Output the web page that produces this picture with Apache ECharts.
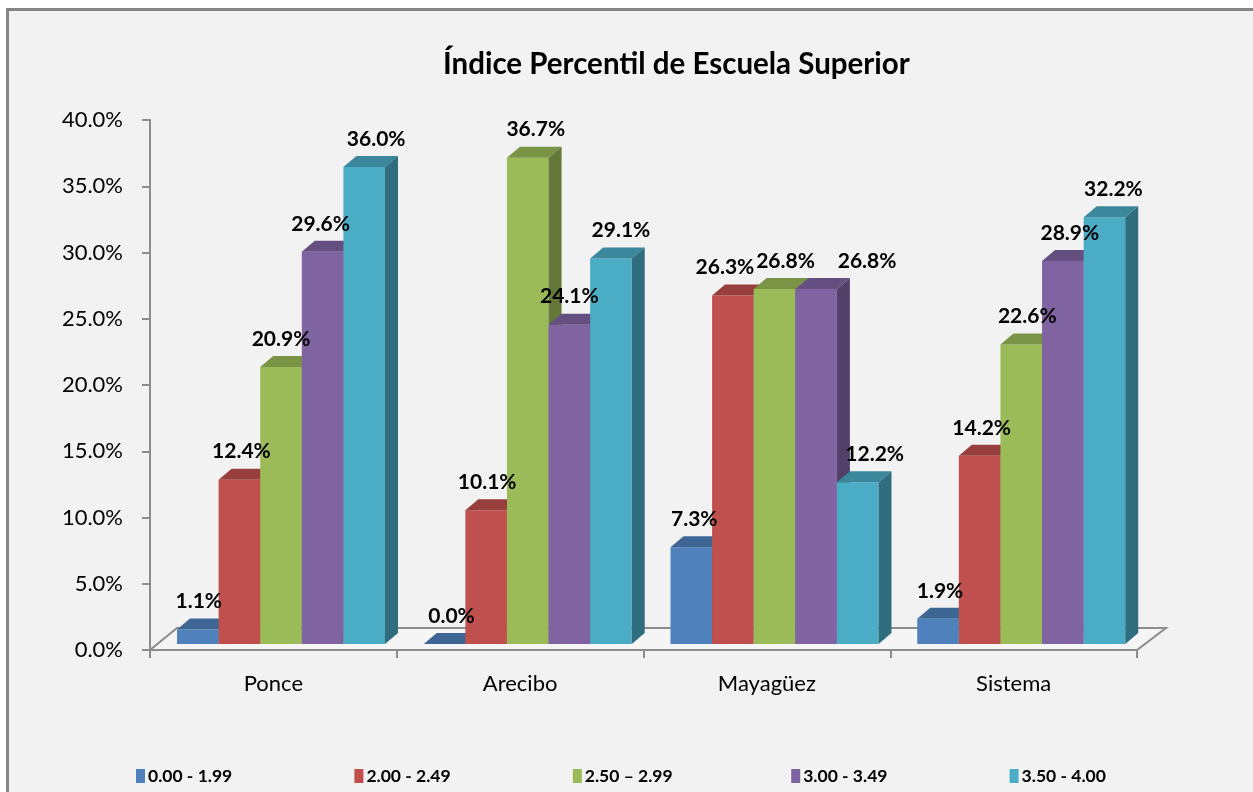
<!DOCTYPE html>
<html>
<head>
<meta charset="utf-8">
<script src="https://cdn.jsdelivr.net/npm/echarts@6/dist/echarts.min.js"></script>
<style>
	html, body { margin: 0; padding: 0; background: #fff; }
	#chart { width: 1253px; height: 792px; }
</style>
</head>
<body>
<div id="chart"></div>
<script>
// datos del gráfico
var categorias = ['Ponce', 'Arecibo', 'Mayagüez', 'Sistema'];
var rangos = ['0.00 - 1.99', '2.00 - 2.49', '2.50 \u2013 2.99', '3.00 - 3.49', '3.50 - 4.00'];
var r000_199 = [1.1, 0.0, 7.3, 1.9];
var r200_249 = [12.4, 10.1, 26.3, 14.2];
var r250_299 = [20.9, 36.7, 26.8, 22.6];
var r300_349 = [29.6, 24.1, 26.8, 28.9];
var r350_400 = [36.0, 29.1, 12.2, 32.2];
var valores = [r000_199, r200_249, r250_299, r300_349, r350_400];
var ticksY = [0, 5, 10, 15, 20, 25, 30, 35, 40];

var colores = ['#4F81BD', '#C0504D', '#9BBB59', '#8064A2', '#4BACC6'];
// desplazamiento horizontal de las etiquetas (como las coloca Excel)
var ajusteEtiqueta = [
	[1, 7, 3, 2],
	[2, 1, -8, 2],
	[0, 8, 11, 6],
	[-2, 0, 51, 7],
	[12, 10, 17, 9]
];
var fuente = 'Lato, "Open Sans", sans-serif';

function oscurecer(hex, f) {
	var n = parseInt(hex.slice(1), 16);
	var r = Math.round(((n >> 16) & 255) * f);
	var g = Math.round(((n >> 8) & 255) * f);
	var b = Math.round((n & 255) * f);
	return 'rgb(' + r + ',' + g + ',' + b + ')';
}

var PROF_X = 13, PROF_Y = -11, ELEV = 6;

function barra3d(idx) {
	return function(params, api) {
		var c = api.value(0);
		var v = api.value(1);
		var banda = api.size([1, 0])[0];
		var base = api.coord([c, 0]);
		var tope = api.coord([c, v]);
		var w = banda * 0.1686;
		var x0 = base[0] - banda / 2 + banda * 0.1094 + idx * w;
		var yb = base[1] - ELEV;
		var yt = tope[1] - ELEV;
		var col = colores[idx];
		return {
			type: 'group',
			children: [{
				type: 'rect',
				shape: { x: x0, y: yt, width: w, height: yb - yt },
				style: { fill: col }
			}, {
				type: 'polygon',
				shape: { points: [[x0, yt], [x0 + PROF_X, yt + PROF_Y], [x0 + w + PROF_X, yt + PROF_Y], [x0 + w, yt]] },
				style: { fill: oscurecer(col, 0.79) }
			}, {
				type: 'polygon',
				shape: { points: [[x0 + w, yt], [x0 + w + PROF_X, yt + PROF_Y], [x0 + w + PROF_X, yb + PROF_Y], [x0 + w, yb]] },
				style: { fill: oscurecer(col, 0.64) }
			}, {
				type: 'text',
				z2: 100,
				style: {
					text: v.toFixed(1) + '%',
					x: x0 + w / 2 + ajusteEtiqueta[idx][c],
					y: yt - 28,
					align: 'center',
					verticalAlign: 'middle',
					fill: '#000',
					font: 'bold 21px ' + fuente
				}
			}]
		};
	};
}

function piso(params, api) {
	var banda = api.size([1, 0])[0];
	var p0 = api.coord([0, 0]);
	var p1 = api.coord([categorias.length - 1, 0]);
	var xi = p0[0] - banda / 2;
	var xd = p1[0] + banda / 2;
	var y = p0[1];
	return {
		type: 'polygon',
		shape: { points: [[xi, y], [xi + 27, y - 22], [xd + 29, y - 22], [xd, y]] },
		style: { fill: '#f5f5f5', stroke: '#8c8c8c', lineWidth: 2 }
	};
}

function initGrafico(id) {
	var dom = document.getElementById(id);
	var myChart = echarts.init(dom);

	var series = [{
		type: 'custom',
		silent: true,
		renderItem: piso,
		data: [[0]],
		z: 1
	}];
	rangos.forEach(function(nombre, i) {
		series.push({
			name: nombre,
			type: 'custom',
			renderItem: barra3d(i),
			itemStyle: { color: colores[i] },
			encode: { x: 0, y: 1 },
			data: valores[i].map(function(v, j) { return [j, v]; }),
			z: 2
		});
	});

	var leyendas = rangos.map(function(nombre, i) {
		return {
			data: [nombre],
			left: 131 + i * 218.4,
			top: 762,
			icon: 'rect',
			itemWidth: 9,
			itemHeight: 14,
			itemGap: 0,
			selectedMode: false,
			textStyle: { fontFamily: fuente, fontWeight: 'bold', fontSize: 17.5, color: '#000', padding: [0, 0, 0, -2] }
		};
	});

	var option = {
		animation: false,
		backgroundColor: '#fff',
		graphic: [{
			type: 'rect',
			z: -10,
			shape: { x: 7.5, y: 9.5, width: 1400, height: 900 },
			style: { fill: '#f2f2f2', stroke: '#868686', lineWidth: 3 }
		}],
		title: {
			text: 'Índice Percentil de Escuela Superior',
			left: 438,
			top: 44,
			textStyle: { fontFamily: fuente, fontWeight: 'bold', fontSize: 29.5, color: '#000' }
		},
		legend: leyendas,
		grid: { left: 150, right: 116, top: 120, bottom: 142 },
		xAxis: {
			type: 'category',
			data: categorias,
			boundaryGap: true,
			axisLine: { show: true, lineStyle: { color: '#8c8c8c', width: 2 } },
			axisTick: { show: true, length: 8, lineStyle: { color: '#8c8c8c', width: 2 } },
			axisLabel: { margin: 23, fontFamily: fuente, fontSize: 22, color: '#000' }
		},
		yAxis: {
			type: 'value',
			min: ticksY[0],
			max: ticksY[ticksY.length - 1],
			interval: 5,
			axisLine: { show: true, lineStyle: { color: '#8c8c8c', width: 2 } },
			axisTick: { show: true, length: 8, lineStyle: { color: '#8c8c8c', width: 2 } },
			splitLine: { show: false },
			axisLabel: {
				margin: 27,
				fontFamily: fuente,
				fontSize: 22,
				color: '#000',
				formatter: function(v) { return v.toFixed(1) + '%'; }
			}
		},
		series: series
	};

	if(option && typeof option === "object") {
		myChart.setOption(option, true);
	}
}

onload = function() {
	initGrafico('chart');
}
</script>
</body>
</html>
